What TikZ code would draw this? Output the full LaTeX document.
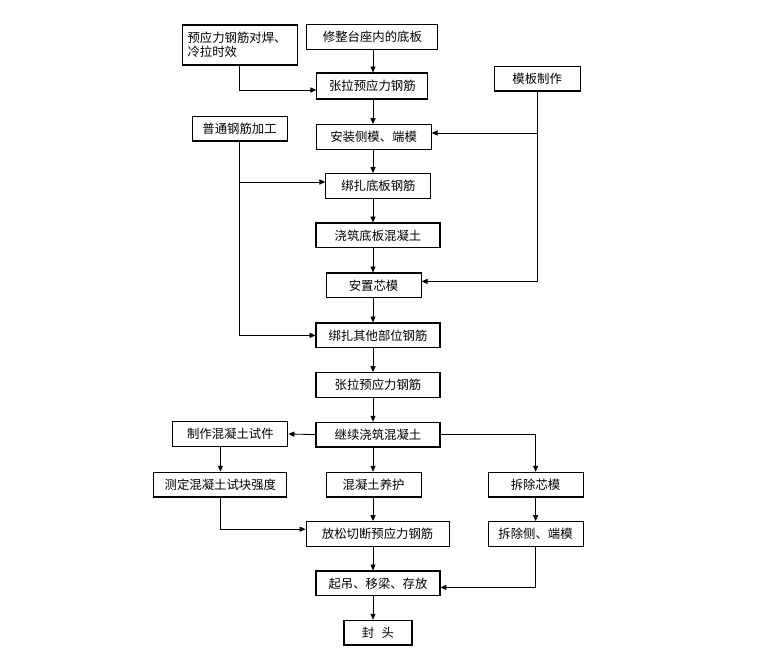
\documentclass[tikz,border=0pt]{standalone}
\usepackage{fontspec}
\setmainfont{Noto Sans CJK SC}
\usetikzlibrary{positioning, arrows.meta, calc}
\definecolor{cLine}{RGB}{0,0,0}
\tikzset{
  %% plain process box
  B/.style={rectangle, draw=cLine, fill=white, line width=0.75pt,
            minimum width=#1, minimum height=0.62cm, inner sep=0pt,
            font=\fontsize{8.8}{9.6}\selectfont, align=center},
  %% arrows
  A/.style={-{Triangle[length=4.2pt,width=3.6pt]}, line width=0.6pt, color=cLine},
  L/.style={line width=0.6pt, color=cLine},
}

\begin{document}
\begin{tikzpicture}

\useasboundingbox (0,0) rectangle (19.525,16.775);

%% ════════════════════════════════════════════════
%%  NODES  (absolute coordinates)
%% ════════════════════════════════════════════════

%% spine of the main column
\coordinate (spine) at (9.325, 0);

%% ── top inputs ──
\node[B=2.875cm, minimum height=1.0cm, text width=2.6cm, align=left]
      (pre)  at (5.99, 15.65)  {预应力钢筋对焊、\\冷拉时效};
\node[B=3.275cm] (base) at (9.31, 15.85)  {修整台座内的底板};
\node[B=2.15cm]  (form) at (13.43, 14.81) {模板制作};
\node[B=2.375cm] (rebar) at (5.99, 13.56) {普通钢筋加工};

%% ── main column ──
\node[B=2.775cm, minimum height=0.65cm] (ten1) at (9.31, 14.625) {张拉预应力钢筋};
\node[B=2.875cm] (side)  at (9.34, 13.35)  {安装侧模、端模};
\node[B=2.625cm] (tieb)  at (9.46, 12.125) {绑扎底板钢筋};
\node[B=3.1cm]   (pourb) at (9.45, 10.89)  {浇筑底板混凝土};
\node[B=2.375cm] (core)  at (9.34, 9.64)   {安置芯模};
\node[B=3.1cm]   (tieo)  at (9.45, 8.39)   {绑扎其他部位钢筋};
\node[B=3.1cm]   (ten2)  at (9.45, 7.15)   {张拉预应力钢筋};
\node[B=3.1cm]   (cont)  at (9.45, 5.91)   {继续浇筑混凝土};
\node[B=2.375cm] (cure)  at (9.34, 4.66)   {混凝土养护};
\node[B=3.575cm] (rel)   at (9.44, 3.425)  {放松切断预应力钢筋};
\node[B=3.1cm]   (lift)  at (9.45, 2.19)   {起吊、移梁、存放};
\node[B=1.7cm]   (seal)  at (9.45, 0.96)   {封\hspace{0.6em}头};

%% ── side branches ──
\node[B=2.875cm] (spec)   at (5.76, 5.925) {制作混凝土试件};
\node[B=3.325cm] (test)   at (5.51, 4.66)  {测定混凝土试块强度};
\node[B=2.375cm] (rmcore) at (13.39, 4.66) {拆除芯模};
\node[B=2.375cm] (rmside) at (13.39, 3.425) {拆除侧、端模};

%% ════════════════════════════════════════════════
%%  ARROWS — main column (all on the spine)
%% ════════════════════════════════════════════════
\foreach \a/\b in {base/ten1, ten1/side, side/tieb, tieb/pourb,
                   pourb/core, core/tieo, tieo/ten2, ten2/cont,
                   cont/cure, cure/rel, rel/lift, lift/seal}
  \draw[A] (\a.south -| spine) -- (\b.north -| spine);

%% ════════════════════════════════════════════════
%%  ARROWS — feeders
%% ════════════════════════════════════════════════

%% welding → first tensioning
\draw[A] (pre.south) |- ([yshift=-0.1cm]ten1.west);

%% formwork → side forms / core form
\draw[A] (form.south) |- ([yshift=0.1cm]core.east);
\draw[A] (form.south |- side.east) ++(0,0.1) -- ([yshift=0.1cm]side.east);

%% ordinary rebar → bottom slab / other parts
\draw[A] (rebar.south) |- (tieo.west);
\draw[A] (rebar.south |- tieb.west) ++(0,0.1) -- ([yshift=0.1cm]tieb.west);

%% ════════════════════════════════════════════════
%%  ARROWS — lower branches
%% ════════════════════════════════════════════════
\draw[A] (cont.west) -- (spec.east);
\draw[A] (test.north |- spec.south) -- (test.north);
\draw[A] (test.south) |- ([yshift=0.12cm]rel.west);

\draw[A] (cont.east) -| (rmcore.north);
\draw[A] (rmcore.south) -- (rmside.north);
\draw[A] (rmside.south) |- ([yshift=-0.1cm]lift.east);

\end{tikzpicture}
\end{document}
